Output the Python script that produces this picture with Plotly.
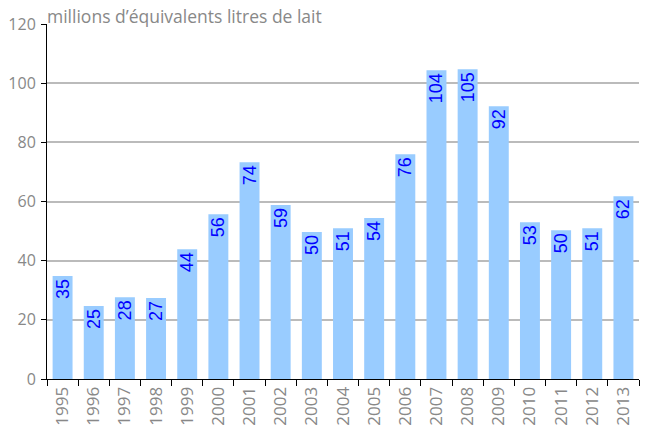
import plotly.graph_objects as go

years = [str(y) for y in range(1995, 2014)]
values = [34.8, 24.7, 27.6, 27.4, 43.9, 55.7, 73.3, 58.8, 49.7, 51.0, 54.4, 76.0, 104.4, 104.7, 92.2, 53.0, 50.3, 51.0, 61.8]
labels = ["35", "25", "28", "27", "44", "56", "74", "59", "50", "51", "54", "76", "104", "105", "92", "53", "50", "51", "62"]
title_text = "millions d’équivalents litres de lait"

fig = go.Figure(go.Bar(
    x=years, y=values, text=labels,
    marker=dict(color="#99ccff", line=dict(width=0)),
    textposition="inside", insidetextanchor="end", textangle=-90,
    textfont=dict(color="#0000ff", size=18, family="Liberation Sans"),
    cliponaxis=False,
))
fig.update_layout(
    width=649, height=434,
    margin=dict(l=39, r=18, t=16, b=63),
    plot_bgcolor="white", paper_bgcolor="white",
    bargap=0.36,
    showlegend=False,
    uniformtext=dict(minsize=18, mode="show"),
    font=dict(family="Open Sans", color="#777777"),
    title=dict(text=title_text, x=0, xref="paper", xanchor="left",
               y=1, yref="container", yanchor="top", pad=dict(t=3, l=0),
               font=dict(size=17.5, color="#888888", family="Open Sans")),
)
fig.update_xaxes(
    type="category", tickson="boundaries", ticks="outside", ticklen=6, tickcolor="black",
    showline=True, linecolor="black", linewidth=1, tickangle=-90, automargin=False,
    tickfont=dict(size=17, color="#888888"), showgrid=False,
)
fig.update_yaxes(
    range=[0, 120], dtick=20, ticks="outside", ticklen=5, tickcolor="black",
    showline=True, linecolor="black", linewidth=1, automargin=False,
    showgrid=True, gridcolor="#bbbbbb", gridwidth=1.5, zeroline=False,
    ticklabelstandoff=2,
    tickfont=dict(size=16, color="#888888"),
)
fig.write_html("out.html")
